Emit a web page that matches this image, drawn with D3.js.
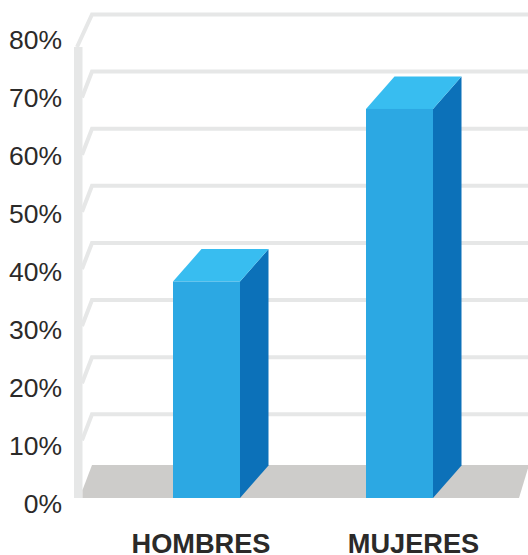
<!DOCTYPE html>
<html>
<head>
<meta charset="utf-8">
<script src="https://cdn.jsdelivr.net/npm/d3@7"></script>
<style>
  html, body { margin: 0; padding: 0; background: #fff; overflow: hidden; }
  text { font-family: "Liberation Sans", Arial, sans-serif; fill: #2b2a29; }
</style>
</head>
<body>
<div id="chart"></div>
<script>
var categories = ["HOMBRES", "MUJERES"];
var values = [37.8, 68];
var gridValues = [10, 20, 30, 40, 50, 60, 70, 80];
var tickValues = [0, 10, 20, 30, 40, 50, 60, 70, 80];

var width = 528, height = 555;
var depthX = 28.5, depthY = 32.5;   // bar depth
var gridDepth = 26;                 // back wall offset

var svg = d3.select("#chart").append("svg")
    .attr("width", width)
    .attr("height", height)
    .style("display", "block");

var y = d3.scaleLinear().domain([0, 80]).range([497.5, 40.4]);
var yLabel = d3.scaleLinear().domain([0, 80]).range([504, 40]);

var x = d3.scalePoint().domain(categories).range([173, 366]);
var xLabel = d3.scalePoint().domain(categories).range([200.5, 413]);
var barWidth = 67;

// left wall
svg.append("rect")
    .attr("x", 74)
    .attr("y", 47)
    .attr("width", 8.5)
    .attr("height", y(0) - 47 + 0.5)
    .style("fill", "#e6e7e7");

// grid lines with the slanted part on the wall
svg.selectAll(".grid")
    .data(gridValues)
  .enter().append("path")
    .attr("class", "grid")
    .attr("d", function(d) {
      var back = y(d) - gridDepth;
      var fx = d == 80 ? 77 : 82;
      var fy = d == 80 ? 47 : y(d);
      return "M" + fx + "," + fy + "L92," + back + "L" + width + "," + back;
    })
    .style("fill", "none")
    .style("stroke", "#e6e7e7")
    .style("stroke-width", 4);

// floor
svg.append("path")
    .attr("d", "M82.5,498L82.5,490L92,465L529,465L519,498Z")
    .style("fill", "#cdccca");

// bars: side, top, front
var bars = svg.selectAll(".bar")
    .data(categories)
  .enter().append("g")
    .attr("class", "bar");

bars.append("path")
    .attr("d", function(d, i) {
      var r = x(d) + barWidth, t = y(values[i]), b = y(0) + 0.5;
      return "M" + r + "," + t + "L" + (r + depthX) + "," + (t - depthY) +
             "L" + (r + depthX) + "," + (b - depthY) + "L" + r + "," + b + "Z";
    })
    .style("fill", "#0c71b9");

bars.append("path")
    .attr("d", function(d, i) {
      var l = x(d), r = l + barWidth, t = y(values[i]);
      return "M" + l + "," + t + "L" + (l + depthX) + "," + (t - depthY) +
             "L" + (r + depthX) + "," + (t - depthY) + "L" + r + "," + t + "Z";
    })
    .style("fill", "#38bdf0");

bars.append("rect")
    .attr("x", function(d) { return x(d); })
    .attr("y", function(d, i) { return y(values[i]); })
    .attr("width", barWidth)
    .attr("height", function(d, i) { return y(0) + 0.5 - y(values[i]); })
    .style("fill", "#2ca8e3");

// y axis labels
var yAxis = d3.axisLeft(yLabel)
    .tickValues(tickValues)
    .tickSize(0)
    .tickPadding(0)
    .tickFormat(function(d) { return d + "%"; });

var yG = svg.append("g")
    .attr("transform", "translate(62,0)")
    .call(yAxis);
yG.select(".domain").remove();
yG.selectAll("text")
    .style("font-size", "26.5px")
    .style("font-family", '"Liberation Sans", Arial, sans-serif')
    .style("fill", "#2b2a29");

// x axis labels
var xAxis = d3.axisBottom(xLabel).tickSize(0).tickPadding(0);
var xG = svg.append("g")
    .attr("transform", "translate(0,534)")
    .call(xAxis);
xG.select(".domain").remove();
xG.selectAll("text")
    .style("font-size", "27.2px")
    .style("font-weight", "bold")
    .style("font-family", '"Liberation Sans", Arial, sans-serif')
    .style("fill", "#2b2a29");
</script>
</body>
</html>
